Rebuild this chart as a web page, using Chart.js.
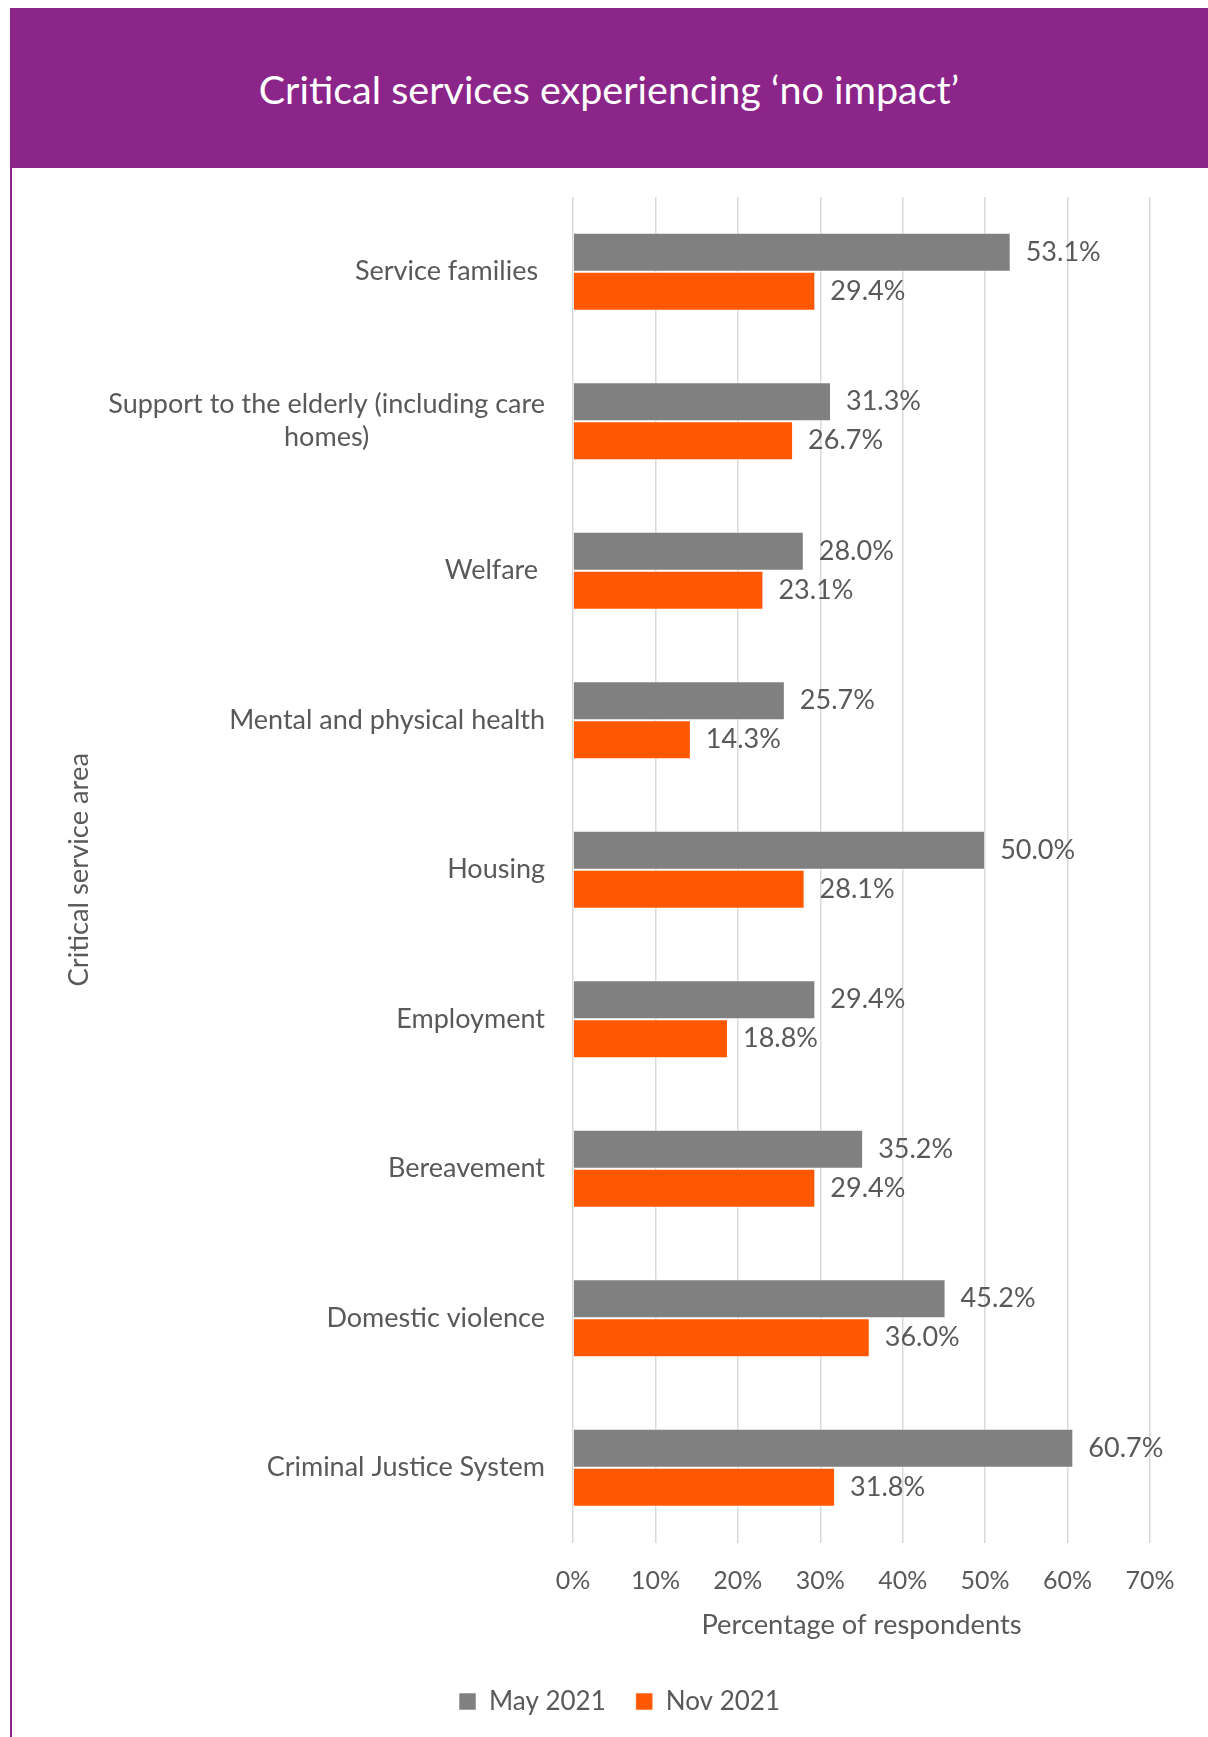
<!DOCTYPE html>
<html lang="en">
<head>
    <meta charset="UTF-8">
    <title>Critical services experiencing ‘no impact’</title>
    <style>
        body {
            margin: 0;
            width: 1208px;
            height: 1737px;
            position: relative;
            overflow: hidden;
            background: #fff;
            font-family: Lato, "Open Sans", sans-serif;
        }
        .frame-line {
            position: absolute;
            left: 10px;
            top: 8px;
            width: 2px;
            height: 1729px;
            background: #8c258a;
        }
        .banner {
            position: absolute;
            left: 10px;
            top: 8px;
            width: 1198px;
            height: 160px;
            background: #8c258a;
            color: #fff;
            font-size: 39.5px;
            display: flex;
            align-items: center;
            justify-content: center;
        }
        .chart-box {
            position: absolute;
            left: 12px;
            top: 168px;
            width: 1196px;
            height: 1569px;
        }
    </style>
    <script src="https://cdn.jsdelivr.net/npm/chart.js"></script>
</head>
<body>
    <div class="frame-line"></div>
    <div class="banner">Critical services experiencing ‘no impact’</div>
    <div class="chart-box">
        <canvas id="impactChart" width="1196" height="1569"></canvas>
    </div>

    <script>
        // service areas (trailing spaces kept as in the source labels)
        const categories = [
            'Service families ',
            ['Support to the elderly (including care', 'homes)'],
            'Welfare ',
            'Mental and physical health',
            'Housing',
            'Employment',
            'Bereavement',
            'Domestic violence',
            'Criminal Justice System'
        ];
        const seriesNames = ['May 2021', 'Nov 2021'];
        const may2021 = [53.1, 31.3, 28.0, 25.7, 50.0, 29.4, 35.2, 45.2, 60.7];
        const nov2021 = [29.4, 26.7, 23.1, 14.3, 28.1, 18.8, 29.4, 36.0, 31.8];
        const xTicks = [0, 10, 20, 30, 40, 50, 60, 70];

        const textColor = '#595959';
        const gray = '#808080';
        const orange = '#ff5800';
        const fontFamily = 'Lato, "Open Sans", sans-serif';

        Chart.defaults.font.family = fontFamily;
        Chart.defaults.color = textColor;

        // category names on the left, multi-line names centred on each other
        const categoryLabels = {
            id: 'categoryLabels',
            afterDraw(chart) {
                const { ctx } = chart;
                const y = chart.scales.y;
                const rightEdge = 533;
                const lineGap = 33;
                ctx.save();
                ctx.font = '27px ' + fontFamily;
                ctx.fillStyle = textColor;
                ctx.textAlign = 'center';
                ctx.textBaseline = 'middle';
                categories.forEach((cat, i) => {
                    const lines = Array.isArray(cat) ? cat : [cat];
                    const blockW = Math.max(...lines.map(l => ctx.measureText(l).width));
                    const cx = rightEdge - blockW / 2;
                    const y0 = y.getPixelForValue(i) - (lines.length - 1) * lineGap / 2;
                    lines.forEach((l, j) => ctx.fillText(l, cx, y0 + j * lineGap));
                });
                ctx.restore();
            }
        };

        // percentage next to the end of every bar
        const barValues = {
            id: 'barValues',
            afterDatasetsDraw(chart) {
                const { ctx } = chart;
                ctx.save();
                ctx.font = '27px ' + fontFamily;
                ctx.fillStyle = textColor;
                ctx.textAlign = 'left';
                ctx.textBaseline = 'middle';
                chart.data.datasets.forEach((ds, di) => {
                    chart.getDatasetMeta(di).data.forEach((bar, i) => {
                        ctx.fillText(ds.data[i].toFixed(1) + '%', bar.x + 15, bar.y);
                    });
                });
                ctx.restore();
            }
        };

        new Chart(document.getElementById('impactChart'), {
            type: 'bar',
            data: {
                labels: categories,
                datasets: [
                    {
                        label: seriesNames[0],
                        data: may2021,
                        backgroundColor: gray,
                        borderColor: 'rgba(255,255,255,0.55)',
                        borderWidth: 1
                    },
                    {
                        label: seriesNames[1],
                        data: nov2021,
                        backgroundColor: orange,
                        borderColor: 'rgba(255,255,255,0.55)',
                        borderWidth: 1
                    }
                ]
            },
            options: {
                indexAxis: 'y',
                responsive: false,
                animation: false,
                categoryPercentage: 0.522,
                barPercentage: 1,
                layout: {
                    padding: { left: 77, right: 58, top: 29, bottom: 12.5 }
                },
                plugins: {
                    tooltip: { enabled: false },
                    legend: {
                        position: 'bottom',
                        labels: {
                            boxWidth: 17,
                            boxHeight: 17,
                            padding: 30,
                            color: textColor,
                            font: { size: 26 }
                        }
                    }
                },
                scales: {
                    x: {
                        min: 0,
                        max: 70,
                        afterBuildTicks: scale => {
                            scale.ticks = xTicks.map(v => ({ value: v }));
                        },
                        afterFit: scale => { scale.height = 116; },
                        grid: {
                            color: '#d9d9d9',
                            lineWidth: 1.5,
                            drawTicks: false
                        },
                        border: { display: false },
                        ticks: {
                            padding: 23.5,
                            color: textColor,
                            font: { size: 25 },
                            callback: v => v + '%'
                        },
                        title: {
                            display: true,
                            text: 'Percentage of respondents',
                            color: textColor,
                            font: { size: 27.3 },
                            padding: { top: 0, bottom: 17 }
                        }
                    },
                    y: {
                        afterFit: scale => { scale.width = 484; },
                        grid: { display: false },
                        border: { display: false },
                        ticks: { display: false },
                        title: {
                            display: true,
                            text: 'Critical service area',
                            color: textColor,
                            font: { size: 27.3 },
                            padding: { top: -26.2, bottom: 0 }
                        }
                    }
                }
            },
            plugins: [categoryLabels, barValues]
        });
    </script>
</body>
</html>
